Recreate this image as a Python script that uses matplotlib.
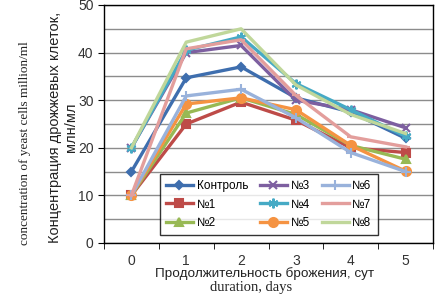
import matplotlib

matplotlib.use("Agg")
import matplotlib.pyplot as plt
from matplotlib.ticker import FixedLocator, MultipleLocator

days = [0, 1, 2, 3, 4, 5]
series_names = ["Контроль", "№1", "№2", "№3", "№4", "№5", "№6", "№7", "№8"]
control = [15, 34.7, 37, 30.5, 27.5, 22]
n1 = [10, 25, 29.6, 25.8, 20, 19]
n2 = [10, 27.3, 30.5, 27, 20.5, 17.6]
n3 = [20, 40, 41.5, 30, 28, 24.2]
n4 = [20, 40.5, 43.3, 33.5, 28, 22.4]
n5 = [10, 29.2, 30.5, 28, 20.5, 15.1]
n6 = [10, 30.9, 32.3, 26.3, 19, 15]
n7 = [10, 40.8, 42.7, 31, 22.3, 20.2]
n8 = [20, 42.2, 45, 33.2, 27, 23]
values = [control, n1, n2, n3, n4, n5, n6, n7, n8]

colors = ["#3E6EAE", "#BE4B48", "#98B954", "#7D5FA0", "#46AAC5",
          "#F59342", "#99B2DB", "#E39E9C", "#C0D79A"]
markers = ["D", "s", "^", "x", (6, 2, 0), "o", "+", "_", None]
sizes = [4.5, 6, 5.5, 6, 7, 6.5, 7, 6, 0]

fig = plt.figure(figsize=(4.38, 2.95), dpi=100)
ax = fig.add_axes([104 / 438, 1 - 243 / 295, 329 / 438, 238 / 295])

for name, ys, color, marker, size in zip(series_names, values, colors, markers, sizes):
    ax.plot(days, ys, color=color, linewidth=2.4, marker=marker, markersize=size,
            markeredgewidth=1.5, label=name)

ax.set_xlim(-0.5, 5.5)
ax.set_ylim(0, 50)
ax.yaxis.set_major_locator(MultipleLocator(10))
ax.yaxis.set_minor_locator(MultipleLocator(5))
ax.grid(axis="y", which="both", color="#8c8c8c", linewidth=1)
ax.set_axisbelow(True)
ax.set_xticks(days)
ax.xaxis.set_minor_locator(FixedLocator([d + 0.5 for d in [-1] + days]))
ax.tick_params(axis="x", which="major", length=0, pad=8)
ax.tick_params(axis="x", which="minor", length=4, direction="out")
ax.tick_params(axis="y", which="major", length=4, direction="out")
ax.tick_params(axis="y", which="minor", length=0)
for label in ax.get_xticklabels() + ax.get_yticklabels():
    label.set_fontfamily("Liberation Sans")
    label.set_fontsize(10)
    label.set_color("#333333")
for spine in ax.spines.values():
    spine.set_color("black")
    spine.set_linewidth(1)

legend = ax.legend(ncol=3, loc="lower left", bbox_to_anchor=(56 / 329, 8 / 238),
                   borderaxespad=0,
                   prop={"family": "Liberation Sans", "size": 8.5}, frameon=True,
                   fancybox=False, edgecolor="black", handlelength=2.3,
                   handletextpad=0.3, columnspacing=1.0, labelspacing=0.55,
                   borderpad=0.5)
legend.get_frame().set_linewidth(1)

fig.text(63 / 438, 1 - 127 / 295, "Концентрация дрожжевых клеток,\nмлн/мл",
         rotation=90, ha="center", va="center", family="Liberation Sans",
         fontsize=10.5, color="#222222", linespacing=1.15)
fig.text(25 / 438, 1 - 143 / 295, "concentration of yeast cells million/ml",
         rotation=90, ha="center", va="center", family="Liberation Serif",
         fontsize=9.5, color="#222222")
fig.text(265 / 438, 1 - 274 / 295, "Продолжительность брожения, сут",
         ha="center", va="center", family="Liberation Sans", fontsize=9.7,
         color="#222222")
fig.text(251 / 438, 1 - 287 / 295, "duration, days", ha="center", va="center",
         family="Liberation Serif", fontsize=10.5, color="#222222")

fig.savefig("out.png", dpi=100)
